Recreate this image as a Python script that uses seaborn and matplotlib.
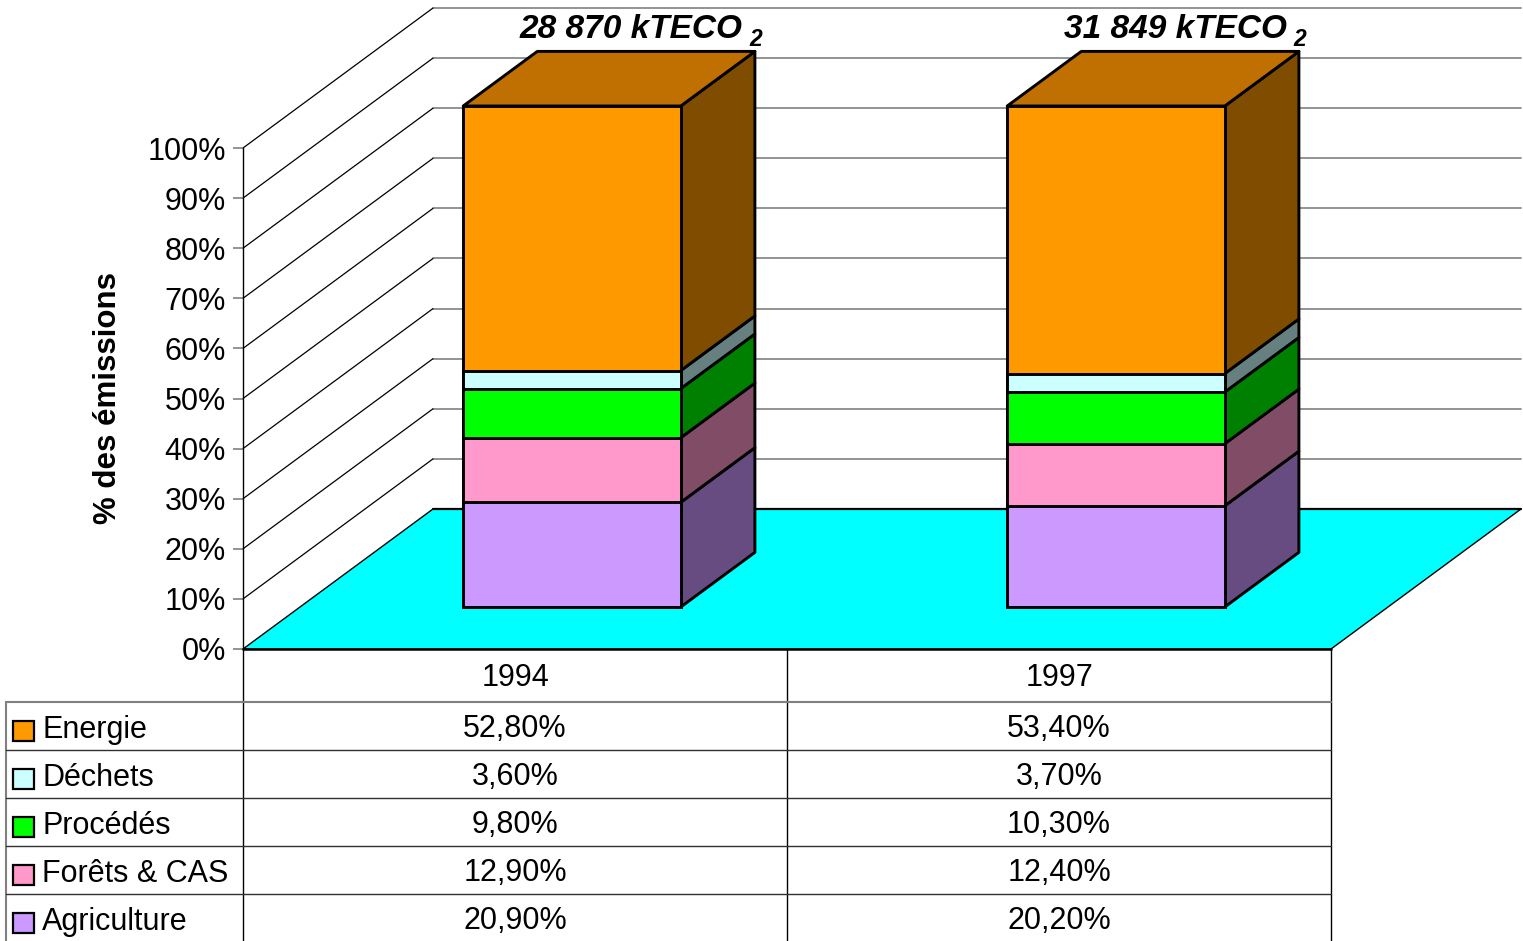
import numpy as np
import pandas as pd
import matplotlib
matplotlib.use("Agg")
import matplotlib.pyplot as plt
import matplotlib.transforms as mtransforms
from matplotlib.patches import Polygon, Rectangle
import seaborn as sns

# ---------------- data ----------------
years = ["1994", "1997"]
energie = [52.8, 53.4]
dechets = [3.6, 3.7]
procedes = [9.8, 10.3]
forets = [12.9, 12.4]
agriculture = [20.9, 20.2]
totals = ["28 870 kTECO", "31 849 kTECO"]
table_rows = ["Energie", "Déchets", "Procédés", "Forêts & CAS", "Agriculture"]
y_ticks = list(range(0, 101, 10))

values = {"Energie": energie, "Déchets": dechets, "Procédés": procedes,
          "Forêts & CAS": forets, "Agriculture": agriculture}
stack_order = ["Agriculture", "Forêts & CAS", "Procédés", "Déchets", "Energie"]

front_colors = {"Energie": "#FF9900", "Déchets": "#CCFFFF", "Procédés": "#00FF00",
                "Forêts & CAS": "#FF99CC", "Agriculture": "#CC99FF"}
side_colors = {"Energie": "#804C00", "Déchets": "#668080", "Procédés": "#008000",
               "Forêts & CAS": "#804C66", "Agriculture": "#664C80"}
top_color = "#C07000"
floor_color = "#00FFFF"

# ---------------- style ----------------
sns.set_theme(style="white")
plt.rcParams['font.family'] = ['Liberation Sans', 'DejaVu Sans']
plt.rcParams['text.color'] = 'black'
plt.rcParams['axes.labelcolor'] = 'black'
plt.rcParams['xtick.color'] = 'black'
plt.rcParams['ytick.color'] = 'black'
FS = 22

W, H = 1523, 941
fig = plt.figure(figsize=(W / 100, H / 100), dpi=100)
fig.patch.set_facecolor("white")

# layout (pixels)
X0, Y0 = 243, 649          # pixel position of (x=-0.5, 0%)
PX_CAT, PX_PCT = 544, 5.01 # pixels per category / per percent
DX = 190 / PX_CAT          # full depth offset (x, data units)
DY = 140 / PX_PCT          # full depth offset (y, percent)
n = len(years)
xmin, xright = -0.5, n - 0.5
xmax = xright + DX
ymin, ymax = 0, 100 + DY

ax = fig.add_axes([X0 / W, (H - Y0) / H, (xmax - xmin) * PX_CAT / W, (ymax - ymin) * PX_PCT / H])
ax.patch.set_alpha(0)

# back wall gridlines and side wall lines
for p in y_ticks:
    ax.plot([xmin + DX, xmax], [p + DY, p + DY], color="#808080", lw=1.2, zorder=0.5, clip_on=False)
    if p > 0:
        ax.plot([xmin, xmin + DX], [p, p + DY], color="black", lw=0.9, zorder=0.5, clip_on=False)

# floor
ax.add_patch(Polygon([(xmin, 0), (xright, 0), (xright + DX, DY), (xmin + DX, DY)], closed=True,
                     facecolor=floor_color, edgecolor="black", lw=1.0, zorder=1, clip_on=False))
ax.plot([xmin, xright], [0, 0], color="black", lw=1.8, zorder=1.1, clip_on=False)
ax.plot([xmin + DX, xright + DX], [DY, DY], color="black", lw=1.6, zorder=1.1, clip_on=False)

# bars
D0, D1 = 0.30, 0.69
base = D0 * DY
BW = 0.40
xpos = np.arange(n) + D0 * DX
ddx, ddy = (D1 - D0) * DX, (D1 - D0) * DY
cum = np.cumsum(np.array([values[s] for s in stack_order]), axis=0)
EW = 2.1

# side faces + top face
for i in range(n):
    xr = xpos[i] + BW / 2
    xl = xpos[i] - BW / 2
    lo = 0.0
    for k, s in enumerate(stack_order):
        hi = cum[k][i]
        ax.add_patch(Polygon([(xr, base + lo), (xr + ddx, base + lo + ddy),
                              (xr + ddx, base + hi + ddy), (xr, base + hi)], closed=True,
                             facecolor=side_colors[s], edgecolor="black", lw=EW, zorder=2,
                             joinstyle="round"))
        lo = hi
    top = cum[-1][i]
    ax.add_patch(Polygon([(xl, base + top), (xr, base + top), (xr + ddx, base + top + ddy),
                          (xl + ddx, base + top + ddy)], closed=True,
                         facecolor=top_color, edgecolor="black", lw=EW, zorder=2, joinstyle="round"))

# front faces (seaborn, cumulative overlay)
for k in reversed(range(len(stack_order))):
    s = stack_order[k]
    df = pd.DataFrame({"x": xpos, "y": cum[k]})
    sns.barplot(data=df, x="x", y="y", native_scale=True, width=BW, bottom=base,
                color=front_colors[s], saturation=1, edgecolor="black", linewidth=EW,
                errorbar=None, ax=ax, zorder=3)

# totals labels
for i, t in enumerate(totals):
    ytxt = base + cum[-1][i] + ddy + 2.6
    txt = ax.text(i + 0.214, ytxt, t, ha="center", va="baseline", fontsize=24,
                  fontweight="bold", fontstyle="italic", zorder=5)
    ax.annotate("2", xy=(1, 0), xycoords=txt, xytext=(6, -1), textcoords="offset pixels",
                ha="left", va="baseline", fontsize=16.5, fontweight="bold", fontstyle="italic")

# axes formatting
ax.set_xlim(xmin, xmax)
ax.set_ylim(ymin, ymax)
ax.set_xticks([])
ax.set_xlabel("")
ax.set_ylabel("")
ax.set_yticks(y_ticks)
ax.set_yticklabels([f"{t}%" for t in y_ticks], fontsize=FS)
ax.tick_params(axis="y", left=True, length=7.2, width=1.2, color="#808080", pad=5, labelcolor="black")
for sp in ["top", "right", "bottom"]:
    ax.spines[sp].set_visible(False)
ax.spines["left"].set_bounds(0, 100)
ax.spines["left"].set_color("black")
ax.spines["left"].set_linewidth(1.0)
ax.grid(False)
ax.text(-0.1056, 50, "% des émissions", rotation=90, ha="center", va="center",
        fontsize=22.5, fontweight="bold",
        transform=mtransforms.blended_transform_factory(ax.transAxes, ax.transData))

# ---------------- data table ----------------
ROW_H = 48
tax = fig.add_axes([0, 0, 1, (H - Y0) / H])
tax.set_xlim(xmin - X0 / PX_CAT, xmin + (W - X0) / PX_CAT)
hdr = 53 / ROW_H
tax.set_ylim((H - Y0) / ROW_H, 0)
tax.axis("off")
bottom_y = (H - Y0) / ROW_H + 0.1
box_left = xmin - (X0 - 6) / PX_CAT

for xv in np.arange(n + 1) - 0.5:
    tax.plot([xv, xv], [0, bottom_y], color="black", lw=1.0, clip_on=False)
tax.plot([box_left, box_left], [hdr, bottom_y], color="#808080", lw=1.5, clip_on=False)
tax.plot([box_left, xright], [hdr, hdr], color="#808080", lw=1.5)
for r in range(1, len(table_rows)):
    tax.plot([box_left, xright], [hdr + r, hdr + r], color="#303030", lw=1.0)

for i, yr in enumerate(years):
    tax.text(i, hdr / 2 + 0.06, yr, ha="center", va="center", fontsize=FS)

mk = 21 / PX_CAT
for r, name in enumerate(table_rows):
    yc = hdr + r + 0.5
    for i in range(n):
        tax.text(i, yc + 0.07, f"{values[name][i]:.2f}%".replace(".", ","),
                 ha="center", va="center", fontsize=FS)
    mx = xmin - (X0 - 13) / PX_CAT
    tax.add_patch(Rectangle((mx, yc + 0.1 - 0.21), mk, 0.42, facecolor=front_colors[name],
                            edgecolor="black", lw=1.6))
    tax.text(xmin - (X0 - 42) / PX_CAT, yc + 0.08, name, ha="left", va="center", fontsize=FS)

fig.savefig("out.png", dpi=100)
